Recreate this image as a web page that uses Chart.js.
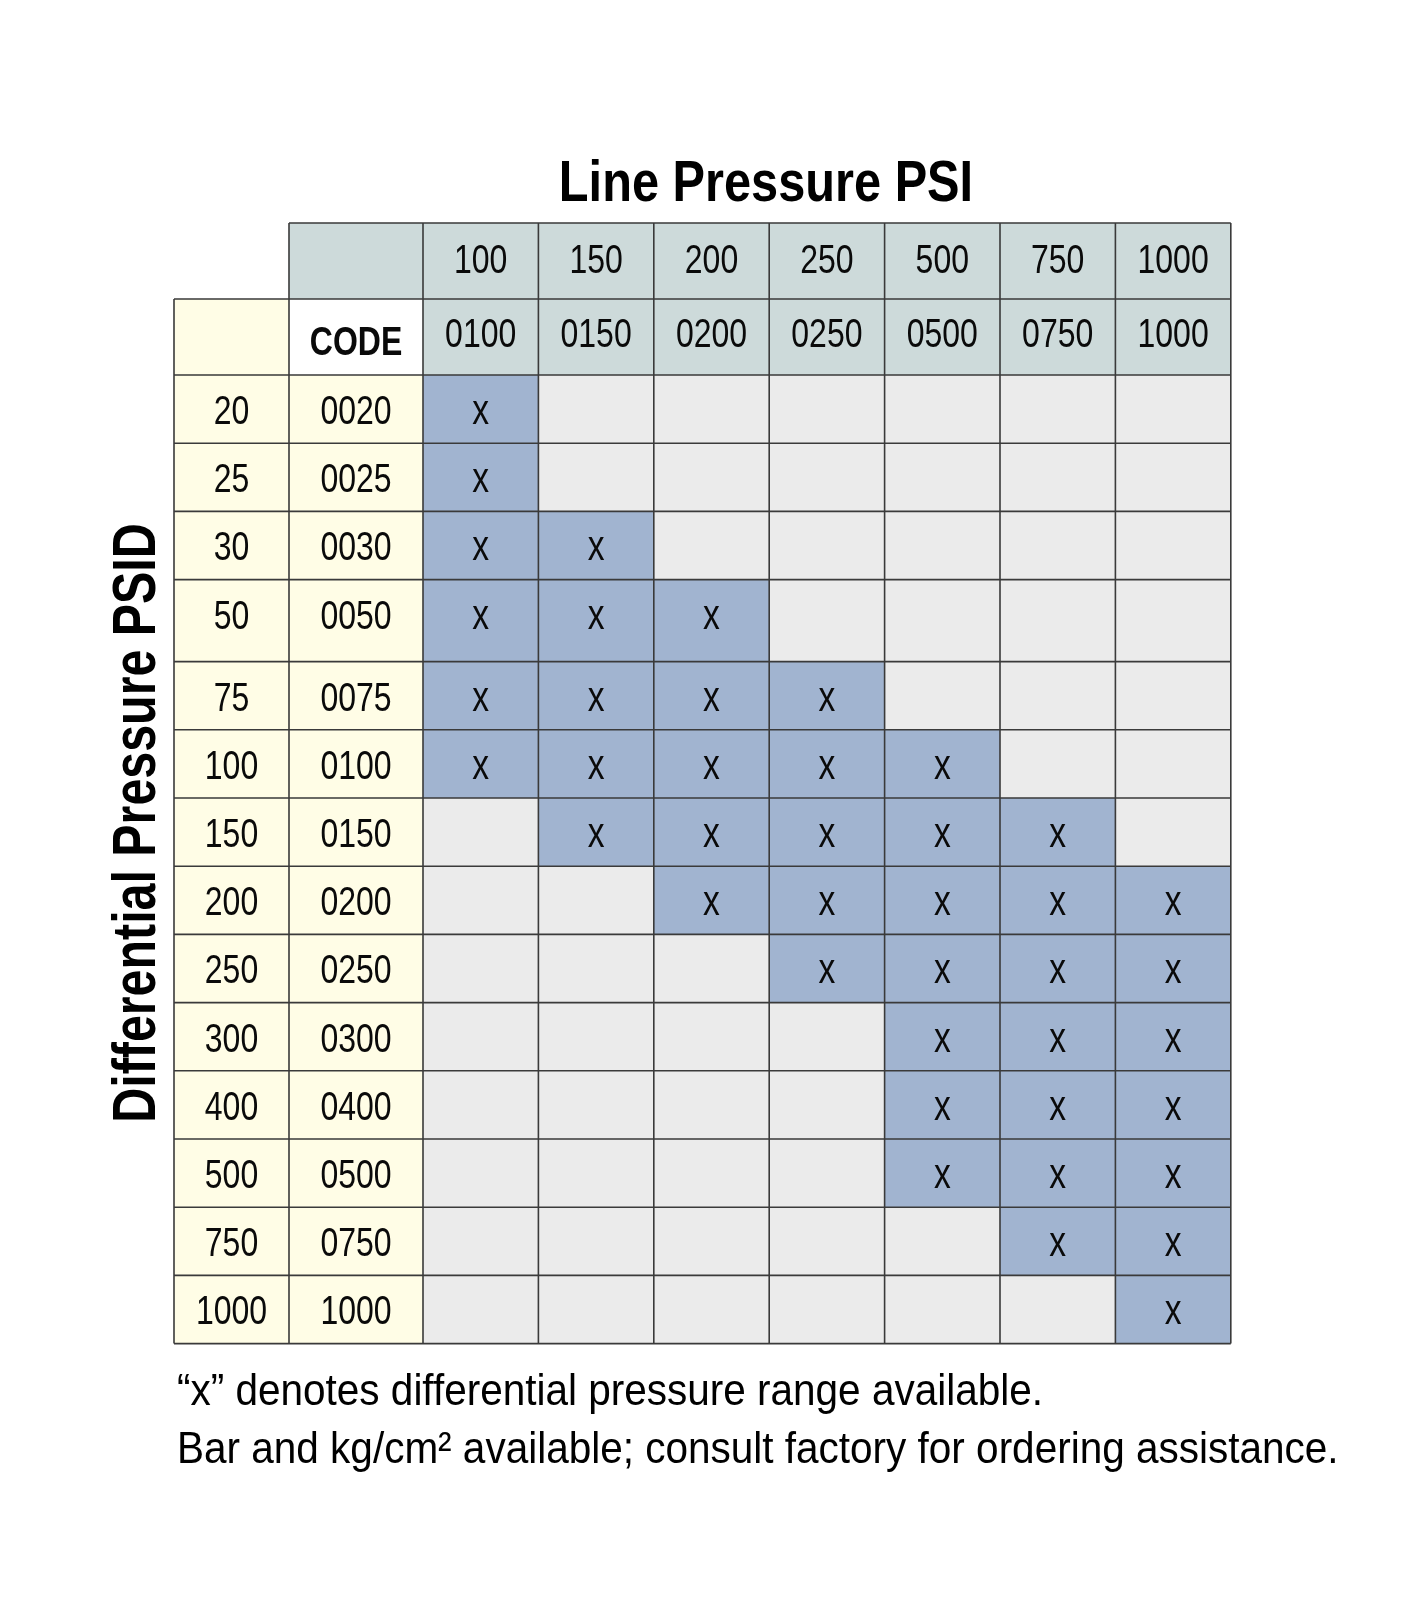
<!DOCTYPE html>
<html>
<head>
<meta charset="utf-8">
<title>Line Pressure PSI</title>
<script src="https://cdn.jsdelivr.net/npm/chart.js@4/dist/chart.umd.min.js"></script>
<style>
  html, body { margin: 0; padding: 0; background: #fff; }
  #wrap { width: 1423px; height: 1600px; position: relative; }
</style>
</head>
<body>
<div id="wrap"><canvas id="psiChart"></canvas></div>
<script>
// line pressure columns
const linePressure = ['100', '150', '200', '250', '500', '750', '1000'];
const lineCodes = ['0100', '0150', '0200', '0250', '0500', '0750', '1000'];

// differential pressure rows
const diffPressure = ['20', '25', '30', '50', '75', '100', '150', '200', '250', '300', '400', '500', '750', '1000'];
const diffCodes = ['0020', '0025', '0030', '0050', '0075', '0100', '0150', '0200', '0250', '0300', '0400', '0500', '0750', '1000'];

// 1 = "x" (range available), one list per differential row
const avail20 = [1, 0, 0, 0, 0, 0, 0];
const avail25 = [1, 0, 0, 0, 0, 0, 0];
const avail30 = [1, 1, 0, 0, 0, 0, 0];
const avail50 = [1, 1, 1, 0, 0, 0, 0];
const avail75 = [1, 1, 1, 1, 0, 0, 0];
const avail100 = [1, 1, 1, 1, 1, 0, 0];
const avail150 = [0, 1, 1, 1, 1, 1, 0];
const avail200 = [0, 0, 1, 1, 1, 1, 1];
const avail250 = [0, 0, 0, 1, 1, 1, 1];
const avail300 = [0, 0, 0, 0, 1, 1, 1];
const avail400 = [0, 0, 0, 0, 1, 1, 1];
const avail500 = [0, 0, 0, 0, 1, 1, 1];
const avail750 = [0, 0, 0, 0, 0, 1, 1];
const avail1000 = [0, 0, 0, 0, 0, 0, 1];
const availability = [avail20, avail25, avail30, avail50, avail75, avail100, avail150,
    avail200, avail250, avail300, avail400, avail500, avail750, avail1000];

// layout (table units, mapped by the linear scales)
const FONT = '"Liberation Sans", Arial, sans-serif';
const colWidths = [115, 134].concat(linePressure.map(() => 115.4));
const rowHeights = [76, 76].concat(diffPressure.map(p => p === '50' ? 82 : 68.2));
const sum = arr => arr.reduce((a, b) => a + b, 0);
const edges = arr => arr.reduce((acc, w) => { acc.push(acc[acc.length - 1] + w); return acc; }, [0]);
const colEdges = edges(colWidths);
const rowEdges = edges(rowHeights);

const COLORS = {
    header: '#cddada',
    yellow: '#fffde6',
    white: '#ffffff',
    on: '#a1b4d0',
    off: '#ebebeb',
    grid: '#3a3a3a',
    text: '#0a0a0a'
};

// one point per matrix cell, placed at the cell centre
const cellPoints = [];
availability.forEach((row, r) => {
    row.forEach((v, c) => {
        cellPoints.push({
            x: (colEdges[c + 2] + colEdges[c + 3]) / 2,
            y: (rowEdges[r + 2] + rowEdges[r + 3]) / 2,
            v: v
        });
    });
});

// narrow-looking text: no condensed font installed, so squeeze horizontally
function narrowText(ctx, str, x, y, font, squeeze, align, angle) {
    ctx.save();
    ctx.font = font;
    ctx.textAlign = align || 'center';
    ctx.textBaseline = 'alphabetic';
    ctx.translate(x, y);
    if (angle) ctx.rotate(angle);
    ctx.scale(squeeze, 1);
    ctx.fillText(str, 0, 0);
    ctx.restore();
}

const tablePlugin = {
    id: 'pressureTable',
    beforeDatasetsDraw(chart) {
        const { ctx, scales: { x, y } } = chart;
        const px = v => x.getPixelForValue(v);
        const py = v => y.getPixelForValue(v);

        const rect = (c0, c1, r0, r1, fill) => {
            ctx.fillStyle = fill;
            ctx.fillRect(px(colEdges[c0]), py(rowEdges[r0]),
                px(colEdges[c1]) - px(colEdges[c0]), py(rowEdges[r1]) - py(rowEdges[r0]));
        };
        const text = (str, c, r, offset, font) => {
            ctx.fillStyle = COLORS.text;
            const cx = (px(colEdges[c]) + px(colEdges[c + 1])) / 2;
            narrowText(ctx, str, cx, py(rowEdges[r]) + offset, font, 0.8);
        };

        ctx.save();
        // header backgrounds
        rect(1, colEdges.length - 1, 0, 1, COLORS.header);
        rect(2, colEdges.length - 1, 1, 2, COLORS.header);
        rect(0, 1, 1, rowEdges.length - 1, COLORS.yellow);
        rect(1, 2, 1, 2, COLORS.white);
        rect(1, 2, 2, rowEdges.length - 1, COLORS.yellow);

        // matrix cells from the data points
        const meta = chart.getDatasetMeta(0);
        meta.data.forEach((pt, i) => {
            const r = Math.floor(i / linePressure.length);
            const c = i % linePressure.length;
            rect(c + 2, c + 3, r + 2, r + 3, cellPoints[i].v ? COLORS.on : COLORS.off);
        });

        // grid lines
        ctx.strokeStyle = COLORS.grid;
        ctx.lineWidth = 1.6;
        ctx.beginPath();
        for (let r = 0; r <= 1; r++) {
            ctx.moveTo(px(colEdges[1]), py(rowEdges[r]));
            ctx.lineTo(px(colEdges[colEdges.length - 1]), py(rowEdges[r]));
        }
        for (let r = 1; r < rowEdges.length; r++) {
            ctx.moveTo(px(colEdges[0]), py(rowEdges[r]));
            ctx.lineTo(px(colEdges[colEdges.length - 1]), py(rowEdges[r]));
        }
        ctx.moveTo(px(colEdges[0]), py(rowEdges[1]));
        ctx.lineTo(px(colEdges[0]), py(rowEdges[rowEdges.length - 1]));
        for (let c = 1; c < colEdges.length; c++) {
            ctx.moveTo(px(colEdges[c]), py(rowEdges[0]));
            ctx.lineTo(px(colEdges[c]), py(rowEdges[rowEdges.length - 1]));
        }
        ctx.stroke();

        // header text
        const cellFont = '40px ' + FONT;
        linePressure.forEach((p, c) => text(p, c + 2, 0, 50, cellFont));
        lineCodes.forEach((p, c) => text(p, c + 2, 1, 48, cellFont));
        text('CODE', 1, 1, 56, 'bold 40px ' + FONT);
        diffPressure.forEach((p, r) => text(p, 0, r + 2, 49, cellFont));
        diffCodes.forEach((p, r) => text(p, 1, r + 2, 49, cellFont));

        // "x" marks
        meta.data.forEach((pt, i) => {
            if (!cellPoints[i].v) return;
            const r = Math.floor(i / linePressure.length);
            const c = i % linePressure.length;
            text('x', c + 2, r + 2, 49, '42px ' + FONT);
        });

        // titles
        ctx.fillStyle = '#000';
        narrowText(ctx, 'Line Pressure PSI', 766, py(rowEdges[0]) - 22, 'bold 58px ' + FONT, 0.84);
        narrowText(ctx, 'Differential Pressure PSID', 155, 823, 'bold 62px ' + FONT, 0.78, 'center', -Math.PI / 2);

        // footnote
        const bottom = py(rowEdges[rowEdges.length - 1]);
        narrowText(ctx, '\u201cx\u201d denotes differential pressure range available.', 177, bottom + 61, '45px ' + FONT, 0.9, 'left');
        narrowText(ctx, 'Bar and kg/cm\u00b2 available; consult factory for ordering assistance.', 177, bottom + 119, '45px ' + FONT, 0.9, 'left');
        ctx.restore();
    }
};

new Chart(document.getElementById('psiChart'), {
    type: 'scatter',
    data: {
        datasets: [{
            label: 'Available',
            data: cellPoints,
            pointRadius: 0,
            pointHoverRadius: 0
        }]
    },
    options: {
        responsive: true,
        maintainAspectRatio: false,
        animation: false,
        layout: { padding: { left: 174, top: 223, right: 1423 - 174 - sum(colWidths), bottom: 1600 - 223 - sum(rowHeights) } },
        plugins: { legend: { display: false }, tooltip: { enabled: false }, title: { display: false } },
        scales: {
            x: { type: 'linear', min: 0, max: sum(colWidths), display: false },
            y: { type: 'linear', min: 0, max: sum(rowHeights), reverse: true, display: false }
        }
    },
    plugins: [tablePlugin]
});
</script>
</body>
</html>
